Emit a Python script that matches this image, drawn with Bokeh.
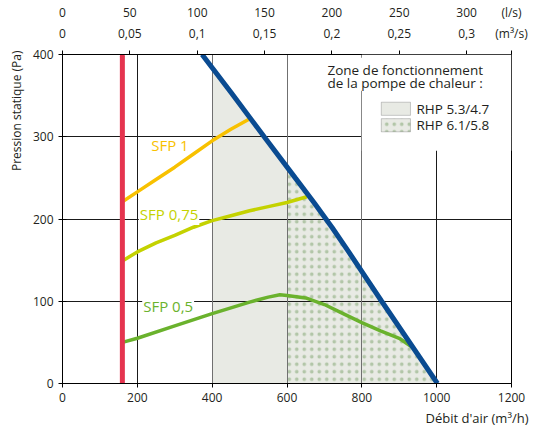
import numpy as np
from bokeh.plotting import figure
from bokeh.models import LinearAxis, FixedTicker, Label, BoxAnnotation, Grid, Title
from bokeh.embed import file_html
from bokeh.resources import INLINE

# ---------------- data ----------------
flow_ticks = [0, 200, 400, 600, 800, 1000, 1200]          # m3/h
pressure_ticks = [0, 100, 200, 300, 400]                  # Pa
ls_values = [0, 50, 100, 150, 200, 250, 300]              # l/s
ls_labels = ["0", "50", "100", "150", "200", "250", "300"]
m3s_labels = ["0", "0,05", "0,1", "0,15", "0,2", "0,25", "0,3"]
unit_ls = "(l/s)"
unit_m3s = "(m³/s)"

min_flow = [160, 160]
min_flow_pa = [0, 398]

max_flow = [373, 450, 539, 622, 672, 720, 765, 853, 1002]
max_flow_pa = [400, 354, 300, 250, 220, 190, 160, 100, 0]

sfp1_flow = [160, 200, 250, 300, 350, 400, 450, 497]
sfp1_pa = [221, 233, 248, 263, 279, 295, 309, 321]

sfp075_flow = [160, 200, 250, 300, 350, 400, 450, 500, 550, 600, 653]
sfp075_pa = [149, 160, 171, 180, 190, 198, 204, 210, 215, 220, 227]

sfp05_flow = [160, 200, 300, 400, 500, 550, 581, 600, 650, 700, 750, 800, 850, 900, 935]
sfp05_pa = [50, 55, 70, 85, 99, 105, 108, 107, 104, 96, 85, 74, 64, 55, 44]

zone_names = ["RHP 5.3/4.7", "RHP 6.1/5.8"]
zone_start_flow = [400, 600]

sfp_names = ["SFP 1", "SFP 0,75", "SFP 0,5"]

# ---------------- styles ----------------
FONT = "Open Sans"
TXT = "#231f20"
RED = "#e5344f"
BLUE = "#0a4b91"
C_SFP1 = "#f8c100"
C_SFP075 = "#c4d200"
C_SFP05 = "#6ab22d"
ZONE_FILL = "#e8eae4"
DOT = "#b2c6a8"

p = figure(frame_width=449, frame_height=329,
           x_range=(0, 1200), y_range=(0, 400),
           output_backend="svg", toolbar_location=None,
           min_border_left=62, min_border_right=18,
           min_border_top=52, min_border_bottom=47,
           background_fill_color="white", border_fill_color="white")
p.outline_line_color = "black"
p.outline_line_width = 1

# axes
for ax in (p.xaxis[0], p.yaxis[0]):
    ax.axis_line_color = "black"
    ax.major_tick_line_color = "black"
    ax.minor_tick_line_color = None
    ax.major_label_text_font = FONT
    ax.major_label_text_font_size = "12px"
    ax.major_label_text_color = TXT
p.xaxis.ticker = FixedTicker(ticks=flow_ticks)
p.xaxis.major_tick_in = 0
p.xaxis.major_tick_out = 4
p.xaxis.major_label_standoff = 5
p.yaxis.ticker = FixedTicker(ticks=pressure_ticks)
p.yaxis.major_tick_in = 4
p.yaxis.major_tick_out = 4
p.yaxis.major_label_standoff = 5

top_ticks = [v * 3.6 for v in ls_values] + [flow_ticks[-1]]
m3s_over = {t: l for t, l in zip(top_ticks, m3s_labels + [unit_m3s])}
ls_over = {t: l for t, l in zip(top_ticks, ls_labels + [unit_ls])}
ax_m3s = LinearAxis(ticker=FixedTicker(ticks=top_ticks),
                    major_label_overrides=m3s_over,
                    major_tick_in=0, major_tick_out=4, major_label_standoff=9,
                    minor_tick_line_color=None, axis_line_color="black",
                    major_tick_line_color="black",
                    major_label_text_font=FONT, major_label_text_font_size="12px",
                    major_label_text_color=TXT)
ax_ls = LinearAxis(ticker=FixedTicker(ticks=top_ticks),
                   major_label_overrides=ls_over,
                   major_tick_in=0, major_tick_out=0, major_label_standoff=1,
                   minor_tick_line_color=None, axis_line_color=None,
                   major_tick_line_color=None,
                   major_label_text_font=FONT, major_label_text_font_size="12px",
                   major_label_text_color=TXT)
p.add_layout(ax_m3s, "above")
p.add_layout(ax_ls, "above")

# axis titles
p.add_layout(Title(text="Pression statique (Pa)", align="right", offset=-4,
                   standoff=10, text_font=FONT, text_font_size="12px",
                   text_font_style="normal", text_color=TXT), "left")
p.add_layout(Title(text="Débit d'air (m³/h)", align="right", offset=-17,
                   standoff=4, text_font=FONT, text_font_size="13px",
                   text_font_style="normal", text_color=TXT), "below")

# grids
p.xgrid.ticker = FixedTicker(ticks=[200, 1000])
p.xgrid.grid_line_color = "#1a1a1a"
p.add_layout(Grid(dimension=0, ticker=FixedTicker(ticks=[400, 600, 800]),
                  grid_line_color="#707070"))
p.ygrid.ticker = FixedTicker(ticks=[100, 200, 300])
p.ygrid.grid_line_color = "#1a1a1a"

# zones under the max curve
def zone_polygon(x0):
    y0 = float(np.interp(x0, max_flow, max_flow_pa))
    xs = [x0, x0] + [x for x in max_flow if x > x0]
    ys = [0, y0] + [y for x, y in zip(max_flow, max_flow_pa) if x > x0]
    return xs, ys

zx, zy = zone_polygon(zone_start_flow[0])
r1 = p.patch(zx, zy, fill_color=ZONE_FILL, line_color=None)
r1.level = "image"
zx2, zy2 = zone_polygon(zone_start_flow[1])
r2 = p.patch(zx2, zy2, fill_alpha=0, line_color=None,
             hatch_pattern="dot", hatch_color=DOT, hatch_scale=7.5, hatch_weight=2.3)
r2.level = "image"

# curves
p.line(sfp1_flow, sfp1_pa, line_color=C_SFP1, line_width=3.5)
p.line(sfp075_flow, sfp075_pa, line_color=C_SFP075, line_width=3.5)
p.line(sfp05_flow, sfp05_pa, line_color=C_SFP05, line_width=3.5)
p.line(max_flow, max_flow_pa, line_color=BLUE, line_width=5)
p.line(min_flow, min_flow_pa, line_color=RED, line_width=5, line_cap="round")

# SFP labels
p.add_layout(Label(x=237, y=290, text=sfp_names[0], text_color=C_SFP1,
                   text_font=FONT, text_font_size="15px", text_baseline="middle"))
p.add_layout(Label(x=204, y=206, text=sfp_names[1], text_color=C_SFP075,
                   text_font=FONT, text_font_size="15px", text_baseline="middle",
                   background_fill_color="white", padding=1))
p.add_layout(Label(x=213, y=94.5, text=sfp_names[2], text_color=C_SFP05,
                   text_font=FONT, text_font_size="15px", text_baseline="middle",
                   background_fill_color="white", padding=1))

# legend block
p.add_layout(BoxAnnotation(left=800, right=1200, bottom=283, top=400,
                           fill_color="white", fill_alpha=1, line_color=None))
p.add_layout(BoxAnnotation(left=790, right=812, bottom=356, top=396,
                           fill_color="white", fill_alpha=1, line_color=None))
p.add_layout(Label(x=708, y=381, text="Zone de fonctionnement", text_color=TXT,
                   text_font=FONT, text_font_size="13.5px", text_baseline="middle"))
p.add_layout(Label(x=708, y=365, text="de la pompe de chaleur :", text_color=TXT,
                   text_font=FONT, text_font_size="13.5px", text_baseline="middle"))
p.add_layout(BoxAnnotation(left=852, right=930, bottom=326, top=342,
                           fill_color=ZONE_FILL, fill_alpha=1,
                           line_color="#555555", line_width=1))
p.add_layout(BoxAnnotation(left=852, right=930, bottom=306, top=322,
                           fill_color=ZONE_FILL, fill_alpha=1,
                           hatch_pattern="dot", hatch_color=DOT, hatch_scale=7.5,
                           hatch_weight=2.3,
                           line_color="#555555", line_width=1))
p.add_layout(Label(x=946, y=334, text=zone_names[0], text_color=TXT,
                   text_font=FONT, text_font_size="13.5px", text_baseline="middle"))
p.add_layout(Label(x=946, y=314, text=zone_names[1], text_color=TXT,
                   text_font=FONT, text_font_size="13.5px", text_baseline="middle"))

open("out.html", "w").write(file_html(p, INLINE))
